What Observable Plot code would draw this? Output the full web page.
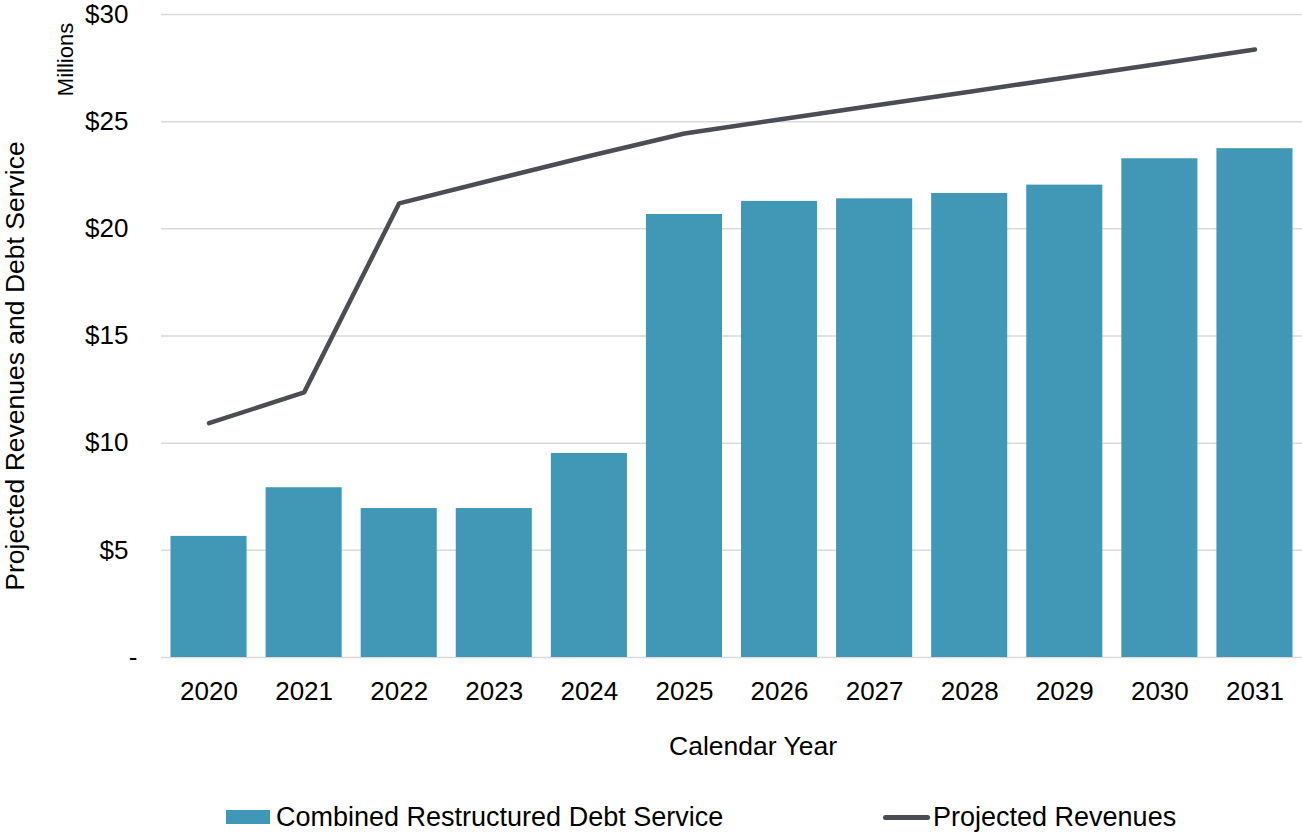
<!DOCTYPE html>
<html>
<head>
<meta charset="utf-8">
<script src="https://cdn.jsdelivr.net/npm/d3@7"></script>
<script src="https://cdn.jsdelivr.net/npm/@observablehq/plot@0.6"></script>
<style>
  html, body { margin: 0; padding: 0; background: #fff; }
  body { width: 1302px; height: 832px; overflow: hidden; font-family: "Liberation Sans", Arial, sans-serif; }
  #legend { position: relative; height: 42px; width: 1302px; }
  .item { position: absolute; top: 6px; height: 42px; display: flex; align-items: center; font-size: 27px; color: #000; white-space: nowrap; }
  .swatch { width: 44px; height: 14px; background: #4197b6; margin-right: 6px; }
  .lineSwatch { width: 47px; height: 5px; border-radius: 3px; background: #4a4e54; margin-right: 3px; }
</style>
</head>
<body>
<div id="chart"></div>
<div id="legend">
  <div class="item" style="left:226px"><div class="swatch"></div><span>Combined Restructured Debt Service</span></div>
  <div class="item" style="left:883px"><div class="lineSwatch"></div><span>Projected Revenues</span></div>
</div>
<script>
const years = ["2020","2021","2022","2023","2024","2025","2026","2027","2028","2029","2030","2031"];
const debtService = [5.65, 7.92, 6.95, 6.95, 9.52, 20.67, 21.28, 21.40, 21.65, 22.04, 23.27, 23.74];
const revenues = [10.93, 12.37, 21.19, 22.30, 23.40, 24.45, 25.10, 25.75, 26.40, 27.05, 27.70, 28.37];
const yTicks = [0, 5, 10, 15, 20, 25, 30];

const debtData = years.map((y, i) => ({year: y, value: debtService[i]}));
const revData = years.map((y, i) => ({year: y, value: revenues[i]}));

const barColor = "#4197b6";
const lineColor = "#4a4e54";

const chart = Plot.plot({
  width: 1302,
  height: 790,
  marginLeft: 161,
  marginRight: 0,
  marginTop: 14,
  marginBottom: 133,
  style: {fontFamily: "'Liberation Sans', Arial, sans-serif", fontSize: "26px", color: "#000", background: "#fff"},
  x: {type: "band", domain: years, paddingInner: 0.2, paddingOuter: 0.1, round: false},
  y: {domain: [0, 30]},
  marks: [
    Plot.gridY(yTicks, {stroke: "#d9d9d9", strokeOpacity: 1, strokeWidth: 1.5}),
    Plot.barY(debtData, {x: "year", y: "value", fill: barColor}),
    Plot.line(revData, {x: "year", y: "value", stroke: lineColor, strokeWidth: 4.5, strokeLinecap: "round", strokeLinejoin: "miter"}),
    Plot.axisX({tickSize: 0, tickPadding: 24, fontSize: 26, label: null}),
    Plot.axisY(yTicks.filter(d => d > 0), {tickSize: 0, tickPadding: 33, fontSize: 26, tickFormat: d => "$" + d, label: null}),
    Plot.axisY([0], {tickSize: 0, tickPadding: 24, fontSize: 26, tickFormat: () => "-", label: null}),
    Plot.text(["Projected Revenues and Debt Service"], {frameAnchor: "left", textAnchor: "middle", rotate: -90, dx: -146, dy: 30, fontSize: 26.5, lineAnchor: "middle", fill: "#000"}),
    Plot.text(["Millions"], {frameAnchor: "top-left", textAnchor: "middle", rotate: -90, dx: -96, dy: 45, fontSize: 22, lineAnchor: "middle", fill: "#000"}),
    Plot.text(["Calendar Year"], {frameAnchor: "bottom", dx: 21, dy: 89, fontSize: 26.5, lineAnchor: "middle", fill: "#000"})
  ]
});
document.getElementById("chart").appendChild(chart);
</script>
</body>
</html>
